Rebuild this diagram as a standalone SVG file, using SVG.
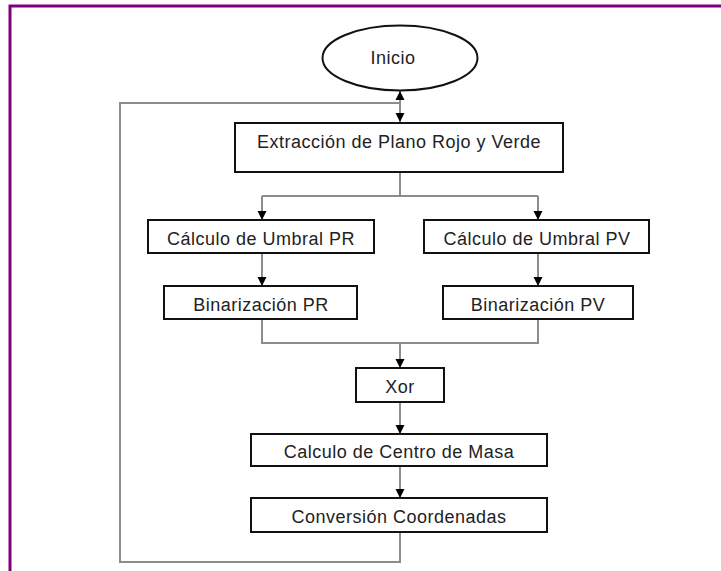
<svg xmlns="http://www.w3.org/2000/svg" width="721" height="571" viewBox="0 0 721 571">
<style>
.box{fill:#fff;stroke:#111;stroke-width:2}
.lbl{font-family:"Liberation Sans",Arial,sans-serif;font-size:18px;letter-spacing:0.5px;fill:#222;text-anchor:middle}
.con{fill:none;stroke:#8c8c8c;stroke-width:2}
.arr{fill:none;stroke:#8c8c8c;stroke-width:2;marker-end:url(#ah)}
</style>
<defs>
<marker id="ah" viewBox="0 0 10 10" refX="10" refY="5" markerWidth="9" markerHeight="10" markerUnits="userSpaceOnUse" orient="auto">
<path d="M0,0 L10,5 L0,10 z" fill="#000"/>
</marker>
</defs>
<rect x="0" y="0" width="721" height="571" fill="#fff"/>
<rect x="10" y="6" width="730" height="600" fill="none" stroke="#800080" stroke-width="3"/>
<g id="connectors">
<path class="con" d="M400,532 V562 H120 V103 H400"/>
<path class="arr" d="M400,103 V91"/>
<path class="arr" d="M400,103 V122"/>
<path class="con" d="M400,172 V196 M262,196 H538"/>
<path class="arr" d="M262,196 V220"/>
<path class="arr" d="M538,196 V220"/>
<path class="arr" d="M262,253 V286"/>
<path class="arr" d="M538,253 V286"/>
<path class="con" d="M262,319 V343 H538 V319"/>
<path class="arr" d="M400,343 V368"/>
<path class="arr" d="M400,402 V434"/>
<path class="arr" d="M400,466 V498"/>
</g>
<g id="inicio">
<ellipse class="box" cx="400" cy="58" rx="77.5" ry="32.5"/>
<text class="lbl" x="393" y="64">Inicio</text>
</g>
<g id="extraccion">
<rect class="box" x="235" y="123" width="328" height="49"/>
<text class="lbl" x="399" y="148">Extracción de Plano Rojo y Verde</text>
</g>
<g id="umbral-pr">
<rect class="box" x="148" y="220" width="226" height="33"/>
<text class="lbl" x="261" y="245">Cálculo de Umbral PR</text>
</g>
<g id="umbral-pv">
<rect class="box" x="424" y="220" width="225" height="33"/>
<text class="lbl" x="537" y="245">Cálculo de Umbral PV</text>
</g>
<g id="bin-pr">
<rect class="box" x="164" y="286" width="193" height="33"/>
<text class="lbl" x="261" y="311">Binarización PR</text>
</g>
<g id="bin-pv">
<rect class="box" x="443" y="286" width="190" height="33"/>
<text class="lbl" x="538" y="311">Binarización PV</text>
</g>
<g id="xor">
<rect class="box" x="356" y="368" width="88" height="34"/>
<text class="lbl" x="400" y="393">Xor</text>
</g>
<g id="centro-masa">
<rect class="box" x="251" y="434" width="296" height="32"/>
<text class="lbl" x="399" y="458">Calculo de Centro de Masa</text>
</g>
<g id="conversion">
<rect class="box" x="251" y="498" width="296" height="34"/>
<text class="lbl" x="399" y="523">Conversión Coordenadas</text>
</g>
</svg>
